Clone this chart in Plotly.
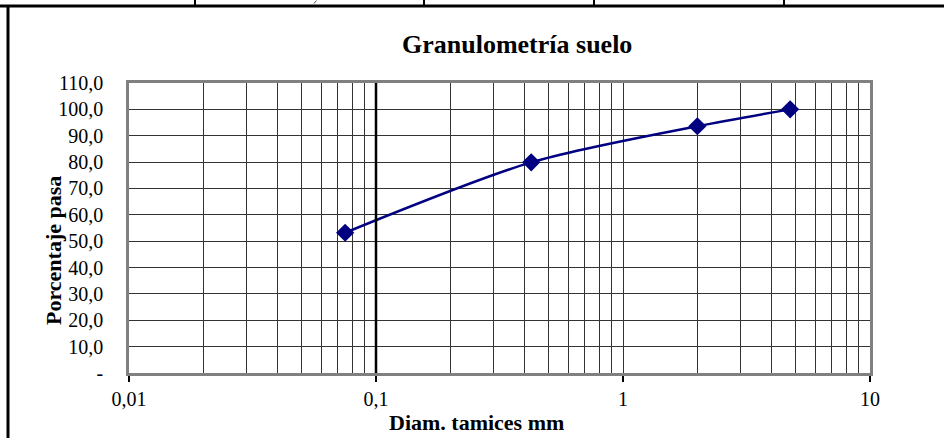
import plotly.graph_objects as go

# Data
diam_mm = [0.075, 0.425, 2.0, 4.75]
pct_pasa = [53.2, 79.9, 93.6, 100.0]

x_tick_vals = [0.01, 0.1, 1, 10]
x_tick_text = ["0,01", "0,1", "1", "10"]
y_tick_vals = [0, 10, 20, 30, 40, 50, 60, 70, 80, 90, 100, 110]
y_tick_text = ["-", "10,0", "20,0", "30,0", "40,0", "50,0", "60,0", "70,0",
               "80,0", "90,0", "100,0", "110,0"]
x_minor_vals = [m * d for d in (0.01, 0.1, 1) for m in range(2, 10)]

W, H = 944, 438
L, R, T, B = 129, 74, 83, 65
PW, PH = W - L - R, H - T - B


def px(x):
    return (x - L) / PW


def py(y):
    return (H - B - y) / PH


SERIF = "Liberation Serif, Times New Roman, serif"

fig = go.Figure()
fig.add_trace(go.Scatter(
    x=diam_mm, y=pct_pasa, mode="lines+markers",
    line=dict(color="#000080", width=2.5, shape="spline", smoothing=0.8),
    marker=dict(symbol="diamond", size=14, color="#000080"),
    showlegend=False, hoverinfo="x+y",
))

shapes = []
# axis crossing line at 0.1
shapes.append(dict(type="line", xref="x", yref="y", x0=0.1, x1=0.1, y0=0, y1=110,
                   line=dict(color="black", width=2.5), layer="above"))
# page border lines (table outline)
shapes.append(dict(type="line", xref="paper", yref="paper", x0=px(0), x1=px(W),
                   y0=py(6), y1=py(6), line=dict(color="black", width=3)))
for vx in (195, 424, 594, 784):
    shapes.append(dict(type="line", xref="paper", yref="paper", x0=px(vx), x1=px(vx),
                       y0=py(0), y1=py(6), line=dict(color="black", width=2)))
shapes.append(dict(type="line", xref="paper", yref="paper", x0=px(8), x1=px(8),
                   y0=py(6), y1=py(H), line=dict(color="black", width=3)))
shapes.append(dict(type="line", xref="paper", yref="paper", x0=px(314), x1=px(316.5),
                   y0=py(3.5), y1=py(0.5), line=dict(color="#555", width=1)))

annotations = [
    dict(text="<b>Granulometría suelo</b>", xref="paper", yref="paper",
         x=px(517), y=py(45), showarrow=False, xanchor="center", yanchor="middle",
         font=dict(family=SERIF, size=26, color="black")),
    dict(text="<b>Diam. tamices mm</b>", xref="paper", yref="paper",
         x=px(476), y=py(422), showarrow=False, xanchor="center", yanchor="middle",
         font=dict(family=SERIF, size=22, color="black")),
    dict(text="<b>Porcentaje pasa</b>", xref="paper", yref="paper",
         x=px(53), y=py(251), showarrow=False, xanchor="center", yanchor="middle",
         textangle=-90, font=dict(family=SERIF, size=22, color="black")),
]

fig.update_layout(
    width=W, height=H,
    margin=dict(l=L, r=R, t=T, b=B, autoexpand=False),
    paper_bgcolor="white", plot_bgcolor="white",
    shapes=shapes, annotations=annotations,
    font=dict(family=SERIF, size=20, color="black"),
    xaxis=dict(
        type="log", range=[-2, 1],
        tickvals=x_tick_vals, ticktext=x_tick_text,
        ticks="outside", ticklen=6, tickcolor="black", tickwidth=1.5,
        ticklabelstandoff=0,
        showgrid=True, gridcolor="#333", gridwidth=1,
        minor=dict(tickvals=x_minor_vals, showgrid=True, gridcolor="#333",
                   gridwidth=1, ticks=""),
        showline=True, linecolor="#808080", linewidth=2.5, mirror=True,
        zeroline=False, fixedrange=True,
        tickfont=dict(family=SERIF, size=20, color="black"),
    ),
    yaxis=dict(
        range=[0, 110],
        tickvals=y_tick_vals, ticktext=y_tick_text,
        ticks="", ticklabelstandoff=19,
        showgrid=True, gridcolor="#333", gridwidth=1,
        showline=True, linecolor="#808080", linewidth=2.5, mirror=True,
        zeroline=False, fixedrange=True,
        tickfont=dict(family=SERIF, size=20, color="black"),
    ),
)

fig.write_html(
    "out.html",
    config={"displayModeBar": False},
    post_script="document.body.style.margin='0';document.body.style.overflow='hidden';",
)
